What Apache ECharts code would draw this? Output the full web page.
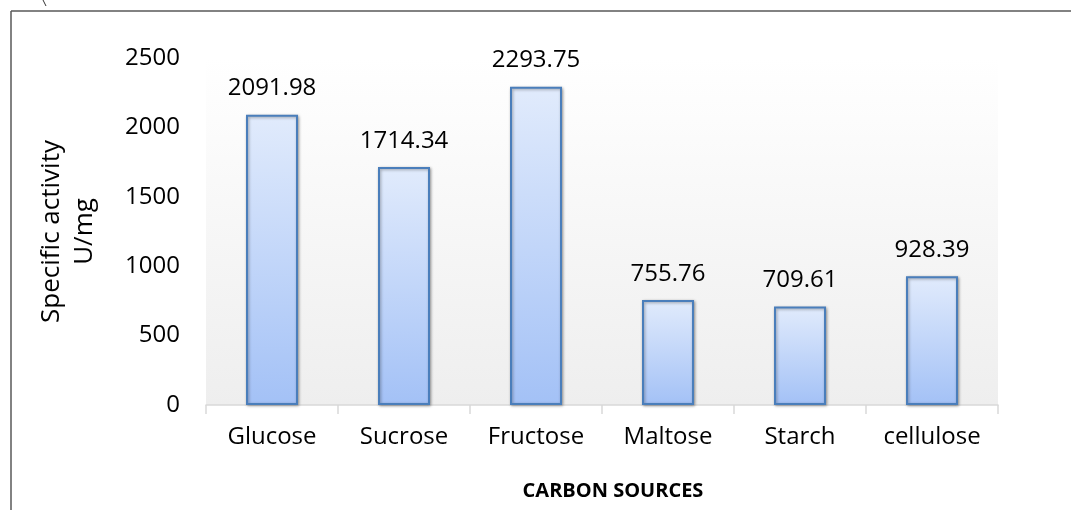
<!DOCTYPE html>
<html>
<head>
<meta charset="utf-8">
<script src="https://cdn.jsdelivr.net/npm/echarts@6/dist/echarts.min.js"></script>
<style>
  html, body { margin: 0; padding: 0; background: #fff; }
  #chart { width: 1071px; height: 510px; }
</style>
</head>
<body>
<div id="chart"></div>
<script>
const categories = ["Glucose", "Sucrose", "Fructose", "Maltose", "Starch", "cellulose"];
const activity = [2091.98, 1714.34, 2293.75, 755.76, 709.61, 928.39];
const yTicks = [0, 500, 1000, 1500, 2000, 2500];

const chart = echarts.init(document.getElementById("chart"));
const font = "'Open Sans', sans-serif";

chart.setOption({
  animation: false,
  // 外框线
  graphic: [
    { type: "line", shape: { x1: 11, y1: 11, x2: 1071, y2: 11 }, style: { stroke: "#595959", lineWidth: 1.5 } },
    { type: "line", shape: { x1: 11, y1: 11, x2: 11, y2: 510 }, style: { stroke: "#595959", lineWidth: 1.5 } },
    { type: "line", shape: { x1: 43, y1: 0, x2: 46, y2: 6 }, style: { stroke: "#333", lineWidth: 1 } },
  ],
  grid: {
    left: 206,
    right: 73,
    top: 58,
    bottom: 105,
    show: true,
    borderWidth: 0,
    backgroundColor: new echarts.graphic.LinearGradient(0, 0, 0, 1, [
      { offset: 0, color: "#ffffff" },
      { offset: 1, color: "#eeeeee" },
    ]),
  },
  xAxis: {
    type: "category",
    data: categories,
    name: "CARBON SOURCES",
    nameLocation: "middle",
    nameGap: 76,
    // 标题略偏右
    nameTextStyle: { fontFamily: font, fontSize: 20, fontWeight: "bold", color: "#000", padding: [0, 0, 0, 22] },
    axisLine: { lineStyle: { color: "#d9d9d9", width: 1.5 } },
    axisTick: { show: true, length: 9, lineStyle: { color: "#d9d9d9", width: 1.5 } },
    axisLabel: { fontFamily: font, fontSize: 24, color: "#000", margin: 20 },
  },
  yAxis: {
    type: "value",
    min: yTicks[0],
    max: yTicks[yTicks.length - 1],
    interval: 500,
    name: "Specific activity\nU/mg",
    nameLocation: "middle",
    nameRotate: 90,
    nameGap: 105,
    nameTextStyle: { fontFamily: font, fontSize: 26, color: "#000", lineHeight: 33, align: "center" },
    axisLine: { show: false },
    axisTick: { show: false },
    splitLine: { show: false },
    axisLabel: {
      fontFamily: font,
      fontSize: 24,
      color: "#000",
      margin: 26,
      formatter: function (value) {
        return String(value);
      },
    },
  },
  series: [
    {
      type: "bar",
      data: activity,
      barWidth: 52,
      itemStyle: {
        color: new echarts.graphic.LinearGradient(0, 0, 0, 1, [
          { offset: 0, color: "#e1ebfc" },
          { offset: 1, color: "#a3c1f6" },
        ]),
        borderColor: "#4a7ebb",
        borderWidth: 2,
        shadowColor: "rgba(0,0,0,0.35)",
        shadowBlur: 3,
        shadowOffsetX: 1,
        shadowOffsetY: 1,
      },
      label: {
        show: true,
        position: "top",
        distance: 14,
        fontFamily: font,
        fontSize: 24,
        color: "#000",
      },
    },
  ],
});
</script>
</body>
</html>
